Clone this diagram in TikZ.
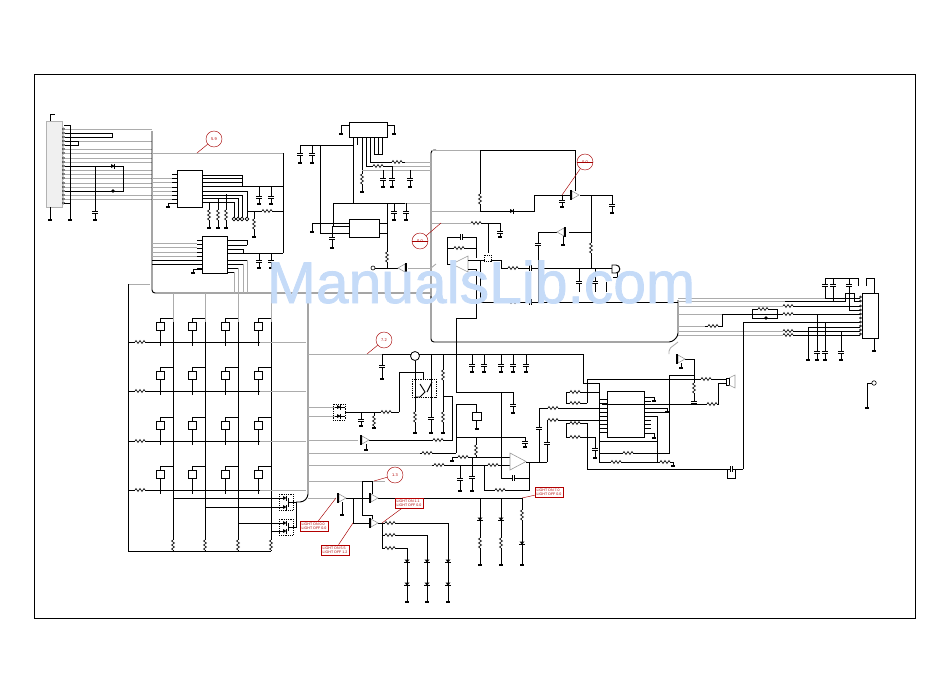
\documentclass[tikz,border=0pt]{standalone}
\usepackage{fontspec}
\setmainfont{Liberation Sans}
\newfontfamily\markfont[FakeBold=1.3]{Liberation Sans}
\definecolor{markblue}{RGB}{197,219,248}
\begin{document}
\begin{tikzpicture}[
  x=1pt,y=-1pt,
  wire/.style={line width=.95pt,black},
  bus/.style={line width=.9pt,gray!65},
  tag/.style={draw=red!65!black,line width=.45pt},
  tagbox/.style={draw=red!70!black,line width=.8pt,fill=white,text=red!70!black,font=\fontsize{3.6}{4.4}\selectfont,align=left,inner sep=1.5pt},
  tagdot/.style={draw=red!65!black,line width=.45pt,circle,fill=white,minimum size=16pt,inner sep=0pt,text=red!70!black,font=\fontsize{4}{5}\selectfont},
  chip/.style={draw,line width=1pt,fill=white,inner sep=0pt},
  pics/res_h/.style={code={\fill[white] (-5,-1) rectangle (5,1);
    \draw[line width=.6pt] (-5,0)--(-4,-1.5)--(-2,1.5)--(0,-1.5)--(2,1.5)--(4,-1.5)--(5,0);}},
  pics/res_v/.style={code={\fill[white] (-1,-5) rectangle (1,5);
    \draw[line width=.6pt] (0,-5)--(-1.5,-4)--(1.5,-2)--(-1.5,0)--(1.5,2)--(-1.5,4)--(0,5);}},
  pics/cap_v/.style={code={\fill[white] (-3,-1) rectangle (3,1);
    \draw[line width=.9pt] (-3,-1)--(3,-1) (-3,1)--(3,1);}},
  pics/cap_h/.style={code={\fill[white] (-1,-3) rectangle (1,3);
    \draw[line width=.9pt] (-1,-3)--(-1,3) (1,-3)--(1,3);}},
  pics/gnd/.style={code={\draw[line width=1.3pt] (-2,0)--(2,0);}},
  pics/diode/.style={code={\fill (-2,-2)--(-2,2)--(1.5,0)--cycle; \draw[line width=.9pt] (1.5,-2.5)--(1.5,2.5);}},
  pics/led/.style={code={\fill (-2.5,-1.5)--(2.5,-1.5)--(0,1.5)--cycle; \draw[line width=.9pt] (-3,1.5)--(3,1.5);}},
  pics/trans/.style={code={\fill[white] (-3,-4) rectangle (6,4);
    \draw[line width=.6pt,gray!80] (-1,-4)--(6,0)--(-1,4)--cycle;
    \draw[line width=1.7pt] (-2,-5)--(-2,5);}},
  pics/keycap/.style={code={\draw[line width=1pt] (0,4)--(0,20) (0,-4)--(0,-8)--(12.5,-8);
    \draw[line width=1pt,fill=white] (-3.6,-4) rectangle (3.6,4);}}]

  \useasboundingbox (0,0) rectangle (950,672);
  \draw[line width=.8pt] (34,74) rectangle (915,618);

  % Connector at the top left and its lines
  \node[draw=gray!60,fill=gray!12,line width=.8pt,minimum width=16pt,minimum height=86pt,inner sep=0pt] (conn_top) at (54,164) {};
  \draw[wire] (50,121)--(50,114)--(55,114);
  \foreach \y in {129,133,137,141,145,149,153,158,162,166,170,174,178,183,187,191,195,199,203}
    \draw[line width=.4pt,fill=white] (63.5,\y) circle (1.1pt);
  \foreach \y in {129,141,149,153,158,162,170,174,178,183,187,195,199}
    \draw[bus] (65,\y)--(152,\y);
  \draw[wire] (64,125)--(70,125)--(70,220) (64,203)--(70,203) (50,207)--(50,220);
  \draw[wire] (65,133)--(112,133)--(112,137)--(65,137);
  \draw[wire] (65,141)--(78,141)--(78,145)--(65,145);
  \draw[wire] (65,166)--(123,166)--(123,191)--(65,191);
  \draw[wire] (95,166)--(95,220);
  \pic at (95,212) {cap_v};
  \pic at (113,166) {diode};
  \fill (113,191) circle (1.8pt);
  \foreach \x in {50,70,95} \pic at (\x,220) {gnd};

  % Long rails with rounded corners
  \draw[wire,rounded corners=3pt] (152,131)--(152,293)--(430,293);
  \draw[bus] (152,153)--(283,153);
  \draw[wire] (283,153)--(283,253);
  \draw[wire,rounded corners=3pt] (431,300)--(431,150)--(436,150);
  \draw[wire,rounded corners=3pt] (431,296)--(431,342)--(672,342)--(678,336)--(678,300);
  \draw[bus,rounded corners=3pt] (431,268)--(436,264);

  % Two chips in the upper left block
  \node[chip,minimum width=25pt,minimum height=37pt] (ic_upper) at (189.5,188.5) {};
  \node[chip,minimum width=25pt,minimum height=37pt] (ic_lower) at (214.5,254.5) {};
  \foreach \y in {178,182,187,191,195,199} \draw[bus] (152,\y)--(172,\y);
  \foreach \y in {174,178,182,187,191,195,199,203} \draw[wire] (172,\y)--(ic_upper.west |- 0,\y);
  \draw[wire] (177,203)--(168,203)--(168,207);
  \pic at (168,207) {gnd};
  \draw[wire] (202,175)--(242,175) (202,178)--(242,178) (202,182)--(242,182) (202,186)--(283,186) (242,175)--(242,186);
  \draw[wire] (202,191)--(247,191)--(247,217) (202,195)--(242,195)--(242,217) (202,198)--(238,198)--(238,217) (202,202)--(234,202)--(234,217);
  \foreach \x in {234,238,242,247} \draw[line width=.6pt,fill=white] (\x,219) circle (1.9pt);
  \draw[wire] (247,211)--(283,211);
  \pic at (267,211) {res_h};
  \draw[wire] (254,211)--(254,237);
  \pic at (254,224) {res_v};
  \pic at (254,237) {gnd};
  \draw[wire] (209,202)--(209,228) (218,198)--(218,228) (226,194)--(226,228);
  \foreach \x in {209,218,226} {\pic at (\x,215) {res_v}; \pic at (\x,228) {gnd};}
  \foreach \x in {259,271} {
    \draw[wire] (\x,186)--(\x,204);
    \pic at (\x,197) {cap_v};
    \pic at (\x,204) {gnd};
    \draw[wire] (\x,253)--(\x,268);
    \pic at (\x,261) {cap_v};
    \pic at (\x,268) {gnd};
  }
  \foreach \y in {243,247,252,256} \draw[bus] (152,\y)--(197,\y);
  \foreach \y in {260,264} \draw[wire] (152,\y)--(197,\y);
  \foreach \y in {240,244,248,252,256,260,264,268} \draw[wire] (197,\y)--(202,\y);
  \draw[wire] (202,269)--(193,269)--(193,273);
  \pic at (193,273) {gnd};
  \draw[wire] (227,240)--(247,240)--(247,245) (227,245)--(247,245) (227,249)--(243,249)--(243,253) (227,253)--(283,253);
  \draw[wire] (227,260)--(247,260) (227,264)--(243,264) (227,268)--(238,268) (227,272)--(234,272);
  \draw[bus] (247,260)--(247,293) (243,264)--(243,293) (238,268)--(238,293) (234,272)--(234,293);

  % Keypad matrix
  \draw[bus] (128,284)--(150,284);
  \draw[wire] (128,284)--(128,551)--(271,551);
  \foreach \x in {173,205,238,271} {
    \draw[bus] (\x,293)--(\x,322);
    \draw[wire] (\x,322)--(\x,551);
    \pic at (\x,545) {res_v};
  }
  \foreach \y in {342,391,441,490} {
    \draw[wire] (128,\y)--(260,\y);
    \draw[bus] (260,\y)--(306,\y);
    \pic at (140,\y) {res_h};
    \foreach \x in {173,205,238,271}
      \pic at ({\x-12.5},{\y-12-4}) {keycap};
  }
  \draw[wire,rounded corners=3pt] (308,293)--(308,497)--(303,502)--(296,502);
  \draw[wire] (296,502)--(296,527)--(288,527) (288,523)--(288,531) (288,498)--(288,507) (288,502)--(296,502);
  \draw[wire] (173,498)--(285,498) (205,507)--(285,507) (238,523)--(285,523) (271,531)--(285,531);
  \foreach \y in {498,507,523,531} \pic at (285,\y) {diode};
  \draw[densely dotted,line width=.8pt] (279,494) rectangle (293,510) (279,519) rectangle (293,535);
  \foreach \y in {354,407,416,440,453,465,481,498} \draw[bus] (308,\y)--(320,\y);

  % Regulator block
  \node[chip,minimum width=38pt,minimum height=15pt] (ic_reg) at (368,129.5) {};
  \node[chip,minimum width=30pt,minimum height=18pt] (ic_switch) at (364,228) {};
  \draw[wire] (349,125)--(341,125)--(341,134) (387,125)--(394,125)--(394,134);
  \pic at (341,134) {gnd};
  \pic at (394,134) {gnd};
  \draw[wire] (300,145)--(353,145);
  \draw[wire] (353,137)--(353,203);
  \foreach \x in {300,312} {\draw[wire] (\x,145)--(\x,163); \pic at (\x,154) {cap_v}; \pic at (\x,163) {gnd};}
  \draw[wire] (320,145)--(320,233)--(349,233);
  \draw[wire] (312,223)--(349,223) (312,223)--(312,232);
  \pic at (312,232) {gnd};
  \draw[wire] (333,203)--(333,226)--(349,226) (333,203)--(405,203);
  \draw[bus] (405,203)--(431,203);
  \draw[wire] (332,226)--(332,248);
  \pic at (332,238) {cap_v};
  \pic at (332,248) {gnd};
  \draw[wire] (379,223)--(387,223) (379,233)--(387,233) (387,203)--(387,268);
  \pic at (387,257) {res_v};
  \draw[wire] (362,137)--(362,192);
  \pic at (362,179) {res_v};
  \pic at (362,192) {gnd};
  \draw[wire] (366,137)--(366,166)--(392,166) (370,137)--(370,162)--(405,162);
  \pic at (378,166) {res_h};
  \pic at (397,162) {res_h};
  \draw[bus] (405,162)--(431,162) (392,166)--(431,166) (362,170)--(431,170);
  \foreach \x in {374,378,382} \draw[wire] (\x,137)--(\x,154);
  \draw[wire] (374,154)--(383,154) (357,137)--(357,145);
  \foreach \x/\y in {383/170,392/166,410/170} {\draw[wire] (\x,\y)--(\x,187); \pic at (\x,179) {cap_v}; \pic at (\x,187) {gnd};}
  \foreach \x in {394,406} {\draw[wire] (\x,203)--(\x,220); \pic at (\x,212) {cap_v}; \pic at (\x,220) {gnd};}
  \draw[wire] (375,268)--(398,268);
  \node[draw,line width=.6pt,circle,inner sep=0pt,minimum size=4pt,fill=white] (pin_left) at (373,268) {};
  \pic[xscale=-1] at (404,268) {trans};
  \draw[wire] (405,268)--(405,273);
  \draw[bus] (408,268)--(431,268);

  % Upper amplifier stage
  \draw[bus] (431,150)--(480,150) (431,211)--(480,211) (431,223)--(471,223);
  \draw[wire] (480,150)--(575,150)--(575,192) (480,150)--(480,211)--(534,211)--(534,195)--(570,195);
  \pic at (480,199) {res_v};
  \pic at (512,211) {diode};
  \draw[wire] (562,195)--(562,207);
  \pic at (562,201) {cap_v};
  \pic at (562,207) {gnd};
  \draw[wire] (580,195)--(612,195)--(612,213);
  \pic at (573,195) {trans};
  \pic at (612,205) {cap_v};
  \pic at (612,213) {gnd};
  \draw[wire] (591,195)--(591,268);
  \pic at (591,248) {res_v};
  \draw[wire] (591,232)--(569,232) (558,232)--(538,232)--(538,302) (563,236)--(563,245);
  \pic[xscale=-1] at (563,232) {trans};
  \pic at (538,244) {cap_v};
  \pic at (563,245) {gnd};
  \draw[wire] (471,223)--(500,223)--(500,237) (488,223)--(488,253);
  \pic at (476,223) {res_h};
  \pic at (500,232) {cap_v};
  \pic at (500,237) {gnd};
  \draw[wire] (447,264)--(447,237)--(476,237)--(476,258) (447,248)--(476,248);
  \pic at (461,237) {cap_h};
  \pic at (459,248) {res_h};
  \coordinate (amp_tip) at (452,264);
  \draw[line width=.6pt,gray!80,fill=white] (amp_tip)--(468,256)--(468,272)--cycle;
  \draw[wire] (447,264)--(452,264) (468,260)--(485,260) (468,269)--(476,269)--(476,318)--(456,318)--(456,392);
  \draw[densely dotted,line width=1pt] (484,255) rectangle (491,261);
  \draw[wire] (491,260)--(501,260)--(501,268)--(612,268);
  \pic at (513,268) {res_h};
  \pic at (530,268) {cap_h};
  \draw[wire] (480,260)--(480,302)--(678,302);
  \pic at (513,302) {res_h};
  \pic at (530,302) {cap_h};
  \draw[wire] (579,268)--(579,292) (595,268)--(595,292) (606,282)--(606,292);
  \pic at (579,282) {cap_v};
  \pic at (595,282) {cap_v};
  \draw[wire,fill=white] (612,265)--(616,265) .. controls (621,265) and (621,273) .. (616,273)--(612,273)--cycle;
  \draw[wire] (617,273)--(617,277)--(613,277);

  % Right connector and its lines
  \node[draw,line width=1pt,minimum width=16pt,minimum height=45pt,inner sep=0pt,fill=white] (conn_right) at (870,315.5) {};
  \foreach \y in {297,301,306,310,314,318,322,326,330,334}
    \draw[line width=.4pt,fill=white] (860.5,\y) circle (1pt);
  \draw[bus] (678,298)--(825,298);
  \draw[bus] (678,301)--(785,301) (678,306)--(783,306) (678,314)--(783,314) (678,326)--(705,326) (678,331)--(783,331) (678,335)--(783,335);
  \draw[wire] (825,278)--(858,278)--(858,286) (825,278)--(825,298) (833,278)--(833,301);
  \draw[wire] (785,301)--(845,301)--(845,293)--(854,293)--(854,301)--(860,301);
  \draw[wire] (849,278)--(849,310)--(860,310);
  \draw[wire] (866,286)--(866,278)--(874,278)--(874,293);
  \foreach \x in {825,833,849} \pic at (\x,285) {cap_v};
  \draw[wire] (825,298)--(860,298);
  \draw[wire] (783,306)--(860,306) (722,314)--(860,314) (783,331)--(860,331) (783,335)--(860,335);
  \pic at (788,306) {res_h};
  \pic at (788,314) {res_h};
  \pic at (788,331) {res_h};
  \pic at (788,335) {res_h};
  \draw[wire] (752,318)--(752,309)--(777,309)--(777,318)--cycle;
  \pic at (763,309) {res_h};
  \fill (766,318) circle (1.8pt);
  \draw[wire] (722,314)--(722,326)--(705,326);
  \pic at (713,326) {res_h};
  \draw[wire] (743,469)--(743,322)--(860,322) (808,327)--(860,327) (808,327)--(808,360);
  \draw[wire] (817,314)--(817,360) (825,322)--(825,360) (841,331)--(841,360);
  \foreach \x in {817,825,841} \pic at (\x,352) {cap_v};
  \foreach \x in {808,817,825,841} \pic at (\x,360) {gnd};
  \draw[wire] (874,338)--(874,351);
  \pic at (874,351) {gnd};
  \draw[wire] (867,408)--(867,383)--(872,383);
  \node[draw,line width=.6pt,circle,inner sep=0pt,minimum size=4.5pt,fill=white] (pin_free) at (874,383) {};
  \pic at (867,408) {gnd};

  % Supply line with decoupling
  \draw[bus] (320,354)--(382,354);
  \draw[wire] (382,354)--(583,354)--(583,383)--(599,383)--(599,462)--(657,462);
  \node[draw,line width=.8pt,circle,inner sep=0pt,minimum size=9pt,fill=white] (sense_ring) at (415,356) {};
  \draw[wire] (382,354)--(382,379);
  \pic at (382,366) {cap_v};
  \pic at (382,379) {gnd};
  \foreach \x in {472,484,501,513,526} {\draw[wire] (\x,354)--(\x,372); \pic at (\x,365) {cap_v}; \pic at (\x,372) {gnd};}
  \draw[densely dotted,line width=.8pt] (412,379) rectangle (436,397);
  \draw[wire] (399,412)--(399,372)--(423,372)--(423,380);
  \draw[wire] (sense_ring.south)--(415,433) (431,354)--(431,433) (443,354)--(443,433);
  \pic at (415,417) {res_v};
  \pic at (431,418) {cap_v};
  \pic at (443,375) {res_v};
  \pic at (443,417) {res_v};
  \foreach \x in {415,431,443} \pic at (\x,433) {gnd};
  \draw[wire] (420,384)--(425,392)--(420,397)--(415,397) (432,382)--(427,392);
  \draw[wire] (443,396)--(452,396)--(452,440)--(368,440);
  \pic at (438,440) {res_h};
  \pic at (363,440) {trans};
  \draw[wire] (366,444)--(366,450);
  \pic at (366,450) {gnd};
  \draw[bus] (320,407)--(335,407) (320,416)--(335,416) (320,440)--(358,440) (320,453)--(420,453) (320,465)--(432,465) (320,481)--(362,481);
  \draw[wire] (335,407)--(345,407) (335,416)--(345,416);
  \foreach \y in {407,416} \pic at (339,\y) {diode};
  \draw[densely dotted,line width=.8pt] (333,404) rectangle (345,420);
  \draw[wire] (345,412)--(399,412);
  \pic at (386,412) {res_h};
  \draw[wire] (361,412)--(361,426) (374,412)--(374,428);
  \pic at (361,420) {cap_v};
  \pic at (374,421) {res_v};
  \pic at (361,426) {gnd};
  \pic at (374,428) {gnd};

  % Op amp stage
  \draw[wire] (420,453)--(456,453) (456,404)--(456,453);
  \pic at (427,453) {res_h};
  \draw[wire] (456,392)--(513,392)--(513,413);
  \pic at (513,405) {cap_v};
  \pic at (513,413) {gnd};
  \draw[wire] (456,404)--(476,404)--(476,412);
  \node[draw,line width=1pt,minimum width=9pt,minimum height=8pt,inner sep=0pt,fill=white] (relay_box) at (476.5,416) {};
  \draw[wire] (relay_box.south)--(476.5,429);
  \pic at (476.5,429) {gnd};
  \draw[wire] (456,437)--(525,437)--(525,447);
  \pic at (525,442) {cap_v};
  \pic at (525,447) {gnd};
  \draw[wire] (476,437)--(476,457);
  \pic at (476,450) {res_v};
  \draw[wire] (452,457)--(510,457) (452,457)--(452,461);
  \pic at (452,461) {gnd};
  \pic at (463,457) {res_h};
  \draw[wire] (432,465)--(510,465);
  \pic at (439,465) {res_h};
  \pic at (493,465) {res_h};
  \draw[wire] (460,465)--(460,491) (472,457)--(472,491);
  \pic at (460,479) {cap_v};
  \pic at (472,477) {cap_v};
  \pic at (460,491) {gnd};
  \pic at (472,491) {gnd};
  \draw[wire] (501,392)--(501,478)--(529,478)--(529,462);
  \pic at (513,478) {cap_h};
  \draw[wire] (529,478)--(529,490)--(484,490)--(484,465);
  \pic at (500,490) {res_h};
  \draw[line width=.6pt,gray!80,fill=white] (510,453)--(526,461.5)--(510,470)--cycle;
  \draw[wire] (526,462)--(547,462);
  \draw[wire] (539,462)--(539,408)--(600,408) (547,462)--(547,420)--(600,420);
  \pic at (539,428) {cap_v};
  \pic at (547,443) {cap_v};
  \pic at (553,408) {res_h};
  \pic at (553,420) {res_h};

  % Output chip and speaker
  \node[chip,minimum width=37pt,minimum height=46pt] (ic_audio) at (625.5,414) {};
  \foreach \y in {399,403,408,412,416,420,424,428,432} \draw[wire] (600,\y)--(607,\y);
  \foreach \y in {397,401,408,412,416,420,424,428,433} \draw[wire] (644,\y)--(651,\y);
  \draw[wire] (566,392)--(566,403)--(587,403) (566,392)--(599,392);
  \pic at (575,392) {res_h};
  \pic at (575,403) {res_h};
  \draw[wire] (566,423)--(566,437)--(595,437) (566,423)--(587,423);
  \pic at (575,423) {res_h};
  \pic at (575,437) {res_h};
  \draw[wire] (587,403)--(587,379)--(726,379) (587,423)--(587,469)--(743,469);
  \draw[wire] (595,437)--(595,458);
  \pic at (595,449) {cap_v};
  \draw[wire] (599,441)--(657,441) (599,453)--(669,453)--(669,375)--(694,375)--(694,359)--(684,359);
  \pic at (628,453) {res_h};
  \pic at (616,462) {res_h};
  \draw[wire] (644,397)--(654,397)--(654,401) (644,408)--(667,408)--(667,412) (644,412)--(669,412);
  \draw[wire] (644,416)--(657,416)--(657,462)--(673,462)--(673,466) (644,433)--(654,433)--(654,438);
  \pic at (665,462) {res_h};
  \pic at (654,401) {gnd};
  \pic at (667,412) {gnd};
  \pic at (654,438) {gnd};
  \pic at (673,466) {gnd};
  \pic at (595,458) {gnd};
  \pic at (679,359) {trans};
  \draw[wire] (681,363)--(681,368);
  \pic at (681,368) {gnd};
  \draw[bus,rounded corners=2pt] (678,342)--(669,349)--(669,354);
  \draw[wire] (694,375)--(694,404);
  \pic at (694,388) {res_v};
  \pic at (694,402) {cap_v};
  \draw[wire] (602,404)--(718,404)--(718,383)--(726,383);
  \pic at (706,379) {res_h};
  \pic at (712,404) {res_h};
  \node[draw,line width=1pt,minimum width=3pt,minimum height=7pt,inner sep=0pt,fill=white] (spk_coil) at (727.5,381.5) {};
  \draw[line width=.6pt,gray!80] (729,378)--(735,375)--(735,388)--(729,385);
  \draw[wire] (727,469)--(727,478)--(735,478)--(735,469);
  \pic at (731,469) {cap_h};

  % Lamp drivers at the bottom
  \draw[bus] (320,498)--(336,498);
  \draw[wire] (345,498)--(370,498) (353,498)--(353,523)--(370,523);
  \pic at (340,498) {trans};
  \draw[wire] (342,502)--(342,515);
  \pic at (342,515) {gnd};
  \draw[bus] (362,481)--(385,481);
  \draw[wire] (362,481)--(362,515)--(372,515)--(372,519) (362,481)--(372,481)--(372,494);
  \draw[wire] (377,498)--(522,498) (377,523)--(448,523)--(448,602);
  \pic at (372,498) {trans};
  \pic at (372,523) {trans};
  \draw[wire] (382,523)--(382,548)--(407,548)--(407,602) (382,535)--(427,535)--(427,602);
  \foreach \y in {523,535,548} \pic at (390,\y) {res_h};
  \foreach \x in {407,427,448} {
    \pic at (\x,561) {led};
    \pic at (\x,584) {led};
    \pic at (\x,602) {gnd};
  }
  \foreach \x in {480,501} {
    \draw[wire] (\x,498)--(\x,565);
    \pic at (\x,519) {led};
    \pic at (\x,543) {res_v};
    \pic at (\x,565) {gnd};
  }
  \draw[wire] (522,498)--(522,565);
  \pic at (522,515) {res_v};
  \pic at (522,543) {led};
  \pic at (522,565) {gnd};

  % Red measuring marks
  \node[tagdot] (mark_top) at (214,139) {5.9};
  \coordinate (mark_top_end) at (197,153);
  \draw[tag] (mark_top)--(mark_top_end);
  \node[tagdot] (mark_drive) at (585,162) {0.0};
  \coordinate (mark_drive_end) at (562,195);
  \draw[tag] (mark_drive)--(mark_drive_end);
  \draw[red!65!black,line width=.5pt] (577,162)--(593,162);
  \node[tagdot] (mark_amp) at (420,241) {0.0};
  \coordinate (mark_amp_end) at (441,223);
  \draw[tag] (mark_amp)--(mark_amp_end);
  \draw[red!65!black,line width=.5pt] (412,241)--(428,241);
  \node[tagdot] (mark_rail) at (384,340) {7.2};
  \coordinate (mark_rail_end) at (367,354);
  \draw[tag] (mark_rail)--(mark_rail_end);
  \node[tagdot] (mark_lamp) at (395,475) {1.3};
  \coordinate (mark_lamp_end) at (374,481);
  \draw[tag] (mark_lamp)--(mark_lamp_end);
  \node[tagbox] (light_a) at (314,526.5) {LIGHT ON 0.0\\LIGHT OFF 0.0};
  \coordinate (light_a_end) at (336,498);
  \draw[tag] (light_a)--(light_a_end);
  \node[tagbox] (light_b) at (335,550) {LIGHT ON 5.5\\LIGHT OFF 1.2};
  \coordinate (light_b_end) at (353,523);
  \draw[tag] (light_b)--(light_b_end);
  \node[tagbox] (light_c) at (409,503) {LIGHT ON 1.1\\LIGHT OFF 0.0};
  \coordinate (light_c_end) at (382,523);
  \draw[tag] (light_c)--(light_c_end);
  \node[tagbox] (light_d) at (549,492) {LIGHT ON 7.0\\LIGHT OFF 0.0};
  \coordinate (light_d_end) at (522,498);
  \draw[tag] (light_d)--(light_d_end);

  % Watermark over the whole sheet
  \node[anchor=base,inner sep=0pt,text=markblue,font=\markfont\fontsize{58.8}{60}\selectfont] (water_mark) at (481,303) {ManualsLib.com};
\end{tikzpicture}
\end{document}
